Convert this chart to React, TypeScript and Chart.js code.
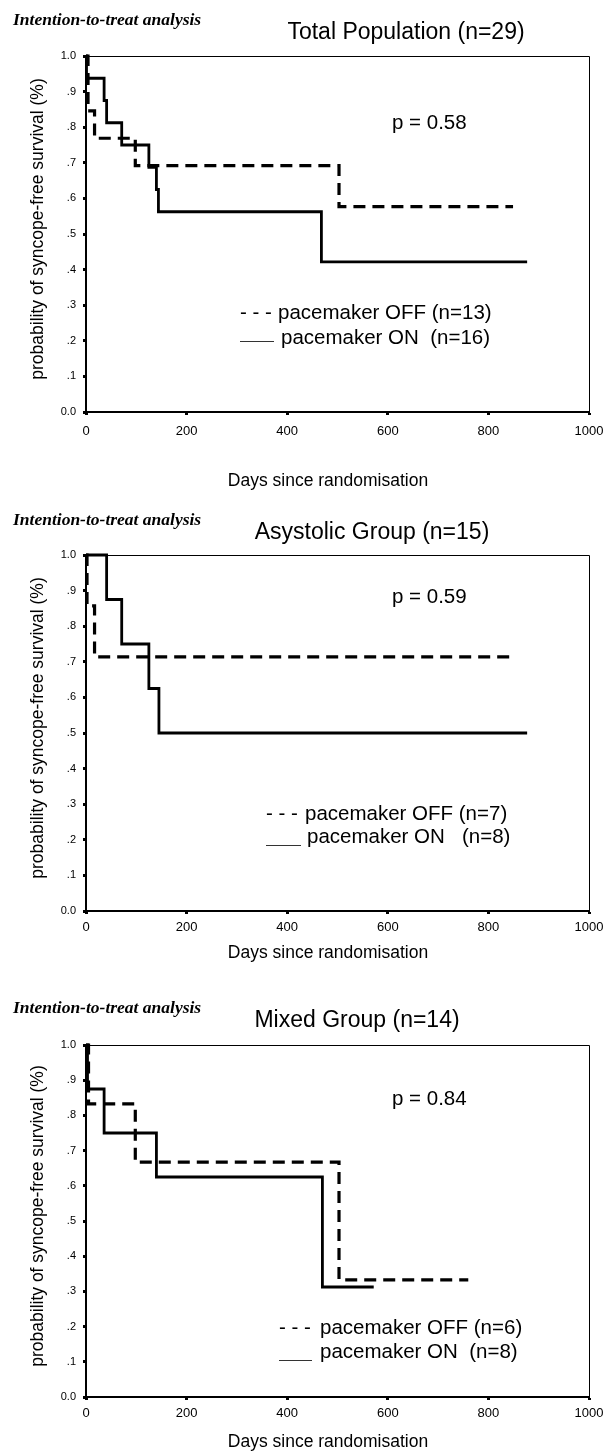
import React, { useEffect, useRef } from "react";
import { Chart, registerables } from "chart.js";

Chart.register(...registerables);

// ---------- data ----------
const xTickValues = [0, 200, 400, 600, 800, 1000];
const yTickValues = [0, 0.1, 0.2, 0.3, 0.4, 0.5, 0.6, 0.7, 0.8, 0.9, 1.0];

const totalOffDays = [0, 4, 17, 98, 503, 849];
const totalOffSurv = [1, 0.846, 0.769, 0.692, 0.577, 0.577];
const totalOnDays = [0, 1, 36, 41, 71, 125, 140, 144, 468, 877];
const totalOnSurv = [1, 0.9375, 0.875, 0.8125, 0.75, 0.6875, 0.625, 0.5625, 0.4219, 0.4219];

const asyOffDays = [0, 2, 17, 849];
const asyOffSurv = [1, 0.857, 0.714, 0.714];
const asyOnDays = [0, 41, 71, 125, 145, 877];
const asyOnSurv = [1, 0.875, 0.75, 0.625, 0.5, 0.5];

const mixOffDays = [0, 5, 98, 503, 760];
const mixOffSurv = [1, 0.833, 0.667, 0.333, 0.333];
const mixOnDays = [0, 3, 36, 140, 470, 572];
const mixOnSurv = [1, 0.875, 0.75, 0.625, 0.3125, 0.3125];

const headerText = "Intention-to-treat analysis";
const chartTitles = ["Total Population (n=29)", "Asystolic Group (n=15)", "Mixed Group (n=14)"];
const pTexts = ["p = 0.58", "p = 0.59", "p = 0.84"];
const offLabels = ["pacemaker OFF (n=13)", "pacemaker OFF (n=7)", "pacemaker OFF (n=6)"];
const onLabels = ["pacemaker ON  (n=16)", "pacemaker ON   (n=8)", "pacemaker ON  (n=8)"];
const yAxisTitle = "probability of syncope-free survival (%)";
const xAxisTitle = "Days since randomisation";

// ---------- layout (page coordinates) ----------
const SANS = '"Liberation Sans", Arial, Helvetica, sans-serif';
const SERIF = '"Liberation Serif", "Times New Roman", serif';

type Layout = {
  top: number;
  height: number;
  plotTop: number;
  plotBottom: number;
  xPad: number;
  headerY: number;
  titleCX: number;
  titleY: number;
  pY: number;
  legPrefixX: number;
  legText1X: number;
  legY1: number;
  legLineX0: number;
  legLineX1: number;
  legLineY: number;
  legText2X: number;
  legY2: number;
  xTitleY: number;
};

const layouts: Layout[] = [
  {
    top: 0, height: 490, plotTop: 56, plotBottom: 412, xPad: 9,
    headerY: 20, titleCX: 406, titleY: 33, pY: 123,
    legPrefixX: 240, legText1X: 278, legY1: 313,
    legLineX0: 240, legLineX1: 274, legLineY: 341, legText2X: 281, legY2: 338,
    xTitleY: 481,
  },
  {
    top: 490, height: 485, plotTop: 555, plotBottom: 911, xPad: 6,
    headerY: 520, titleCX: 372, titleY: 533, pY: 597,
    legPrefixX: 266, legText1X: 305, legY1: 814,
    legLineX0: 266, legLineX1: 301, legLineY: 845, legText2X: 307, legY2: 837,
    xTitleY: 953,
  },
  {
    top: 975, height: 477, plotTop: 1045, plotBottom: 1397, xPad: 6,
    headerY: 1008, titleCX: 357, titleY: 1021, pY: 1099,
    legPrefixX: 279, legText1X: 320, legY1: 1328,
    legLineX0: 279, legLineX1: 312, legLineY: 1360, legText2X: 320, legY2: 1352,
    xTitleY: 1442,
  },
];

const seriesSets = [
  { offDays: totalOffDays, offSurv: totalOffSurv, onDays: totalOnDays, onSurv: totalOnSurv },
  { offDays: asyOffDays, offSurv: asyOffSurv, onDays: asyOnDays, onSurv: asyOnSurv },
  { offDays: mixOffDays, offSurv: mixOffSurv, onDays: mixOnDays, onSurv: mixOnSurv },
];

function makeAnnotPlugin(idx: number) {
  const L = layouts[idx];
  return {
    id: "annot" + idx,
    afterDraw(chart: any) {
      const ctx = chart.ctx as CanvasRenderingContext2D;
      const a = chart.chartArea;
      const t = L.top;
      ctx.save();
      ctx.fillStyle = "#000";
      ctx.strokeStyle = "#000";

      // top and right frame
      ctx.lineWidth = 1;
      ctx.beginPath();
      ctx.moveTo(a.left, a.top + 0.5);
      ctx.lineTo(a.right + 0.5, a.top + 0.5);
      ctx.lineTo(a.right + 0.5, a.bottom);
      ctx.stroke();

      ctx.textBaseline = "middle";

      // header
      ctx.textAlign = "left";
      ctx.font = `italic bold 17.5px ${SERIF}`;
      ctx.fillText(headerText, 13, L.headerY - t);

      // title
      ctx.textAlign = "center";
      ctx.font = `23px ${SANS}`;
      ctx.fillText(chartTitles[idx], L.titleCX, L.titleY - t);

      // p value
      ctx.textAlign = "left";
      ctx.font = `20.5px ${SANS}`;
      ctx.fillText(pTexts[idx], 392, L.pY - t);

      // legend
      ctx.font = `20.5px ${SANS}`;
      ctx.fillText("- - -", L.legPrefixX, L.legY1 - t);
      ctx.fillText(offLabels[idx], L.legText1X, L.legY1 - t);
      ctx.fillText(onLabels[idx], L.legText2X, L.legY2 - t);
      ctx.lineWidth = 1;
      ctx.strokeStyle = "#333";
      ctx.beginPath();
      ctx.moveTo(L.legLineX0, L.legLineY - t + 0.5);
      ctx.lineTo(L.legLineX1, L.legLineY - t + 0.5);
      ctx.stroke();

      // x axis title
      ctx.textAlign = "center";
      ctx.font = `17.5px ${SANS}`;
      ctx.fillText(xAxisTitle, 328, L.xTitleY - t);

      // y axis title
      ctx.translate(38, (a.top + a.bottom) / 2 - 5);
      ctx.rotate(-Math.PI / 2);
      ctx.font = `17.5px ${SANS}`;
      ctx.fillText(yAxisTitle, 0, 0);

      ctx.restore();
    },
  };
}

function KMChart({ idx }: { idx: number }) {
  const ref = useRef<HTMLCanvasElement>(null);
  const L = layouts[idx];
  useEffect(() => {
    const s = seriesSets[idx];
    const gridCommon = {
      drawOnChartArea: false,
      drawTicks: true,
      tickLength: 3,
      tickWidth: 3,
      tickColor: "#000",
    };
    const chart = new Chart(ref.current as HTMLCanvasElement, {
      type: "line",
      data: {
        datasets: [
          {
            label: offLabels[idx],
            data: s.offDays.map((d, i) => ({ x: d, y: s.offSurv[i] })),
            stepped: "before",
            borderColor: "#000",
            borderWidth: 3.2,
            borderDash: [12, 7],
            pointRadius: 0,
            fill: false,
            clip: false,
          },
          {
            label: onLabels[idx],
            data: s.onDays.map((d, i) => ({ x: d, y: s.onSurv[i] })),
            stepped: "before",
            borderColor: "#000",
            borderWidth: 2.8,
            pointRadius: 0,
            fill: false,
            clip: false,
          },
        ],
      } as any,
      options: {
        animation: false,
        responsive: false,
        devicePixelRatio: 1,
        events: [],
        layout: { padding: { top: L.plotTop - L.top, right: 18, left: 0, bottom: 0 } },
        plugins: {
          legend: { display: false },
          tooltip: { enabled: false },
          title: { display: false },
        },
        scales: {
          x: {
            type: "linear",
            min: 0,
            max: 1000,
            afterBuildTicks: (sc: any) => {
              sc.ticks = xTickValues.map((v) => ({ value: v }));
            },
            afterFit: (sc: any) => {
              sc.height = L.top + L.height - L.plotBottom;
              sc.paddingLeft = 0;
              sc.paddingRight = 0;
            },
            ticks: {
              color: "#000",
              font: { size: 13, family: SANS },
              padding: L.xPad,
              maxRotation: 0,
              autoSkip: false,
              callback: (v: any) => String(v),
            },
            grid: gridCommon,
            border: { display: true, color: "#000", width: 2 },
          },
          y: {
            type: "linear",
            min: 0,
            max: 1,
            afterBuildTicks: (sc: any) => {
              sc.ticks = yTickValues.map((v) => ({ value: v }));
            },
            afterFit: (sc: any) => {
              sc.width = 86;
              sc.paddingTop = 0;
              sc.paddingBottom = 0;
            },
            ticks: {
              color: "#000",
              font: { size: 11, family: SANS },
              padding: 7,
              autoSkip: false,
              callback: (v: any) => {
                const n = Number(v);
                if (n === 0) return "0.0";
                if (Math.abs(n - 1) < 1e-9) return "1.0";
                return "." + Math.round(n * 10);
              },
            },
            grid: gridCommon,
            border: { display: true, color: "#000", width: 2 },
          },
        },
      } as any,
      plugins: [makeAnnotPlugin(idx)],
    });
    return () => chart.destroy();
  }, [idx]);
  return (
    <canvas
      ref={ref}
      width={607}
      height={L.height}
      style={{ position: "absolute", left: 0, top: L.top, width: 607, height: L.height }}
    />
  );
}

export default function App() {
  return (
    <div
      style={{
        position: "absolute",
        left: 0,
        top: 0,
        width: 607,
        height: 1452,
        background: "#fff",
        overflow: "hidden",
      }}
    >
      <KMChart idx={0} />
      <KMChart idx={1} />
      <KMChart idx={2} />
    </div>
  );
}
